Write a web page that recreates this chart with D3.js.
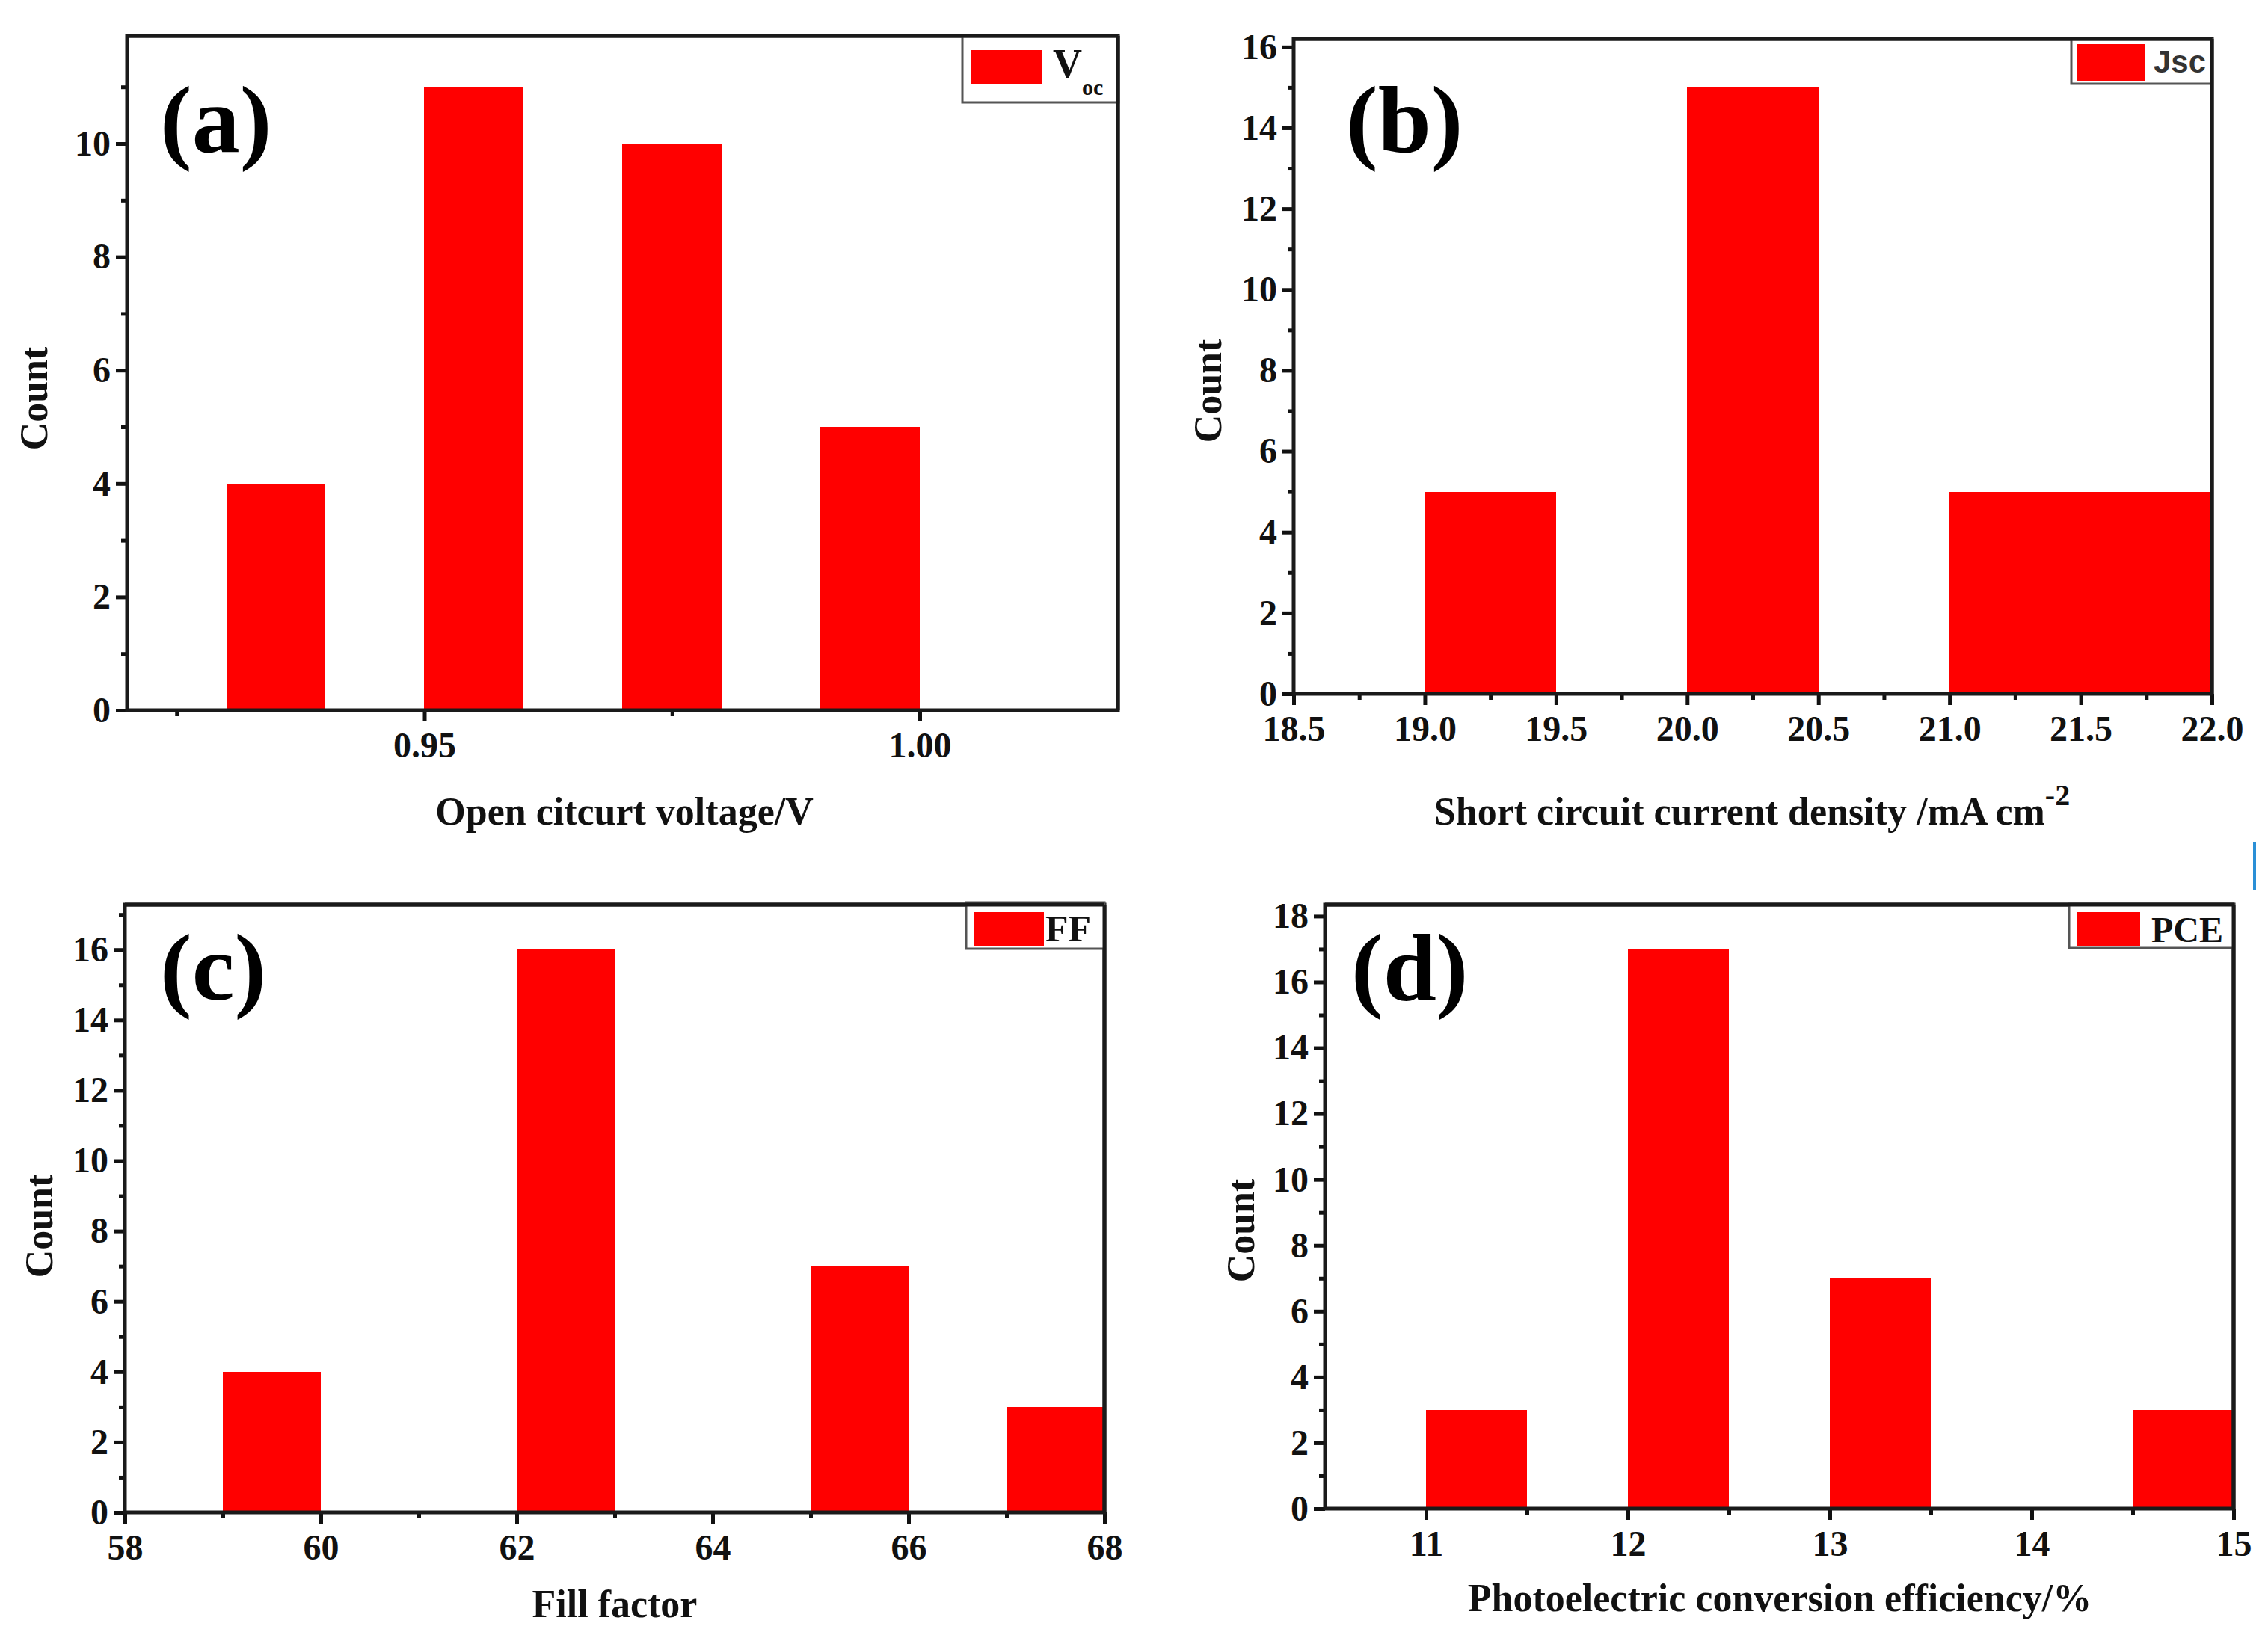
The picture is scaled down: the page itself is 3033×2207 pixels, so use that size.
<!DOCTYPE html>
<html>
<head>
<meta charset="utf-8">
<title>Device parameter histograms</title>
<script src="https://cdn.jsdelivr.net/npm/d3@7"></script>
<style>
    body { margin: 0; background: #fff; }
    text { font-family: "Liberation Serif", "Times New Roman", serif; font-weight: bold; }
</style>
</head>
<body>
<div id="chart-area"></div>
<script>
// Histograms of Voc, Jsc, FF and PCE (30 devices)

// (a) open circuit voltage
const vocBinStart = [0.93, 0.95, 0.97, 0.99];
const vocBinEnd = [0.94, 0.96, 0.98, 1.00];
const vocCount = [4, 11, 10, 5];
const vocTicks = [0.95, 1.00];
const vocMinorTicks = [0.925, 0.975];
const vocCountTicks = [0, 2, 4, 6, 8, 10];

// (b) short circuit current density
const jscBinStart = [19.0, 20.0, 21.0, 21.5];
const jscBinEnd = [19.5, 20.5, 21.5, 22.0];
const jscCount = [5, 15, 5, 5];
const jscTicks = [18.5, 19.0, 19.5, 20.0, 20.5, 21.0, 21.5, 22.0];
const jscMinorTicks = [18.75, 19.25, 19.75, 20.25, 20.75, 21.25, 21.75];
const jscCountTicks = [0, 2, 4, 6, 8, 10, 12, 14, 16];

// (c) fill factor
const ffBinStart = [59, 62, 65, 67];
const ffBinEnd = [60, 63, 66, 68];
const ffCount = [4, 16, 7, 3];
const ffTicks = [58, 60, 62, 64, 66, 68];
const ffMinorTicks = [59, 61, 63, 65, 67];
const ffCountTicks = [0, 2, 4, 6, 8, 10, 12, 14, 16];

// (d) photoelectric conversion efficiency
const pceBinStart = [11.0, 12.0, 13.0, 14.5];
const pceBinEnd = [11.5, 12.5, 13.5, 15.0];
const pceCount = [3, 17, 7, 3];
const pceTicks = [11, 12, 13, 14, 15];
const pceMinorTicks = [11.5, 12.5, 13.5, 14.5];
const pceCountTicks = [0, 2, 4, 6, 8, 10, 12, 14, 16, 18];


class Histogram {

    constructor(svg, data, config){
        this.svg = svg;
        this.data = data;
        this.config = config;

        this.initVis();
    }

    initVis(){
        let vis = this;
        let c = vis.config;

        vis.g = vis.svg.append("g");

        // scales
        vis.x = d3.scaleLinear()
            .domain(c.xDomain)
            .range([c.left, c.right]);

        vis.y = d3.scaleLinear()
            .domain([0, c.yMax])
            .range([c.bottom, c.top]);

        vis.wrangleData();
    }

    wrangleData(){
        let vis = this;

        // zip the bins with their counts
        vis.displayData = vis.data.start.map(function(d, i){
            return {x0: d, x1: vis.data.end[i], count: vis.data.count[i]};
        });

        vis.updateVis();
    }

    updateVis(){
        let vis = this;
        let c = vis.config;

        // bars (crisp edges so touching bins don't show a seam)
        vis.g.selectAll(".bar").data(vis.displayData)
            .enter()
            .append("rect")
            .attr("class", "bar")
            .attr("x", d => Math.round(vis.x(d.x0)))
            .attr("width", d => Math.round(vis.x(d.x1)) - Math.round(vis.x(d.x0)))
            .attr("y", d => vis.y(d.count))
            .attr("height", d => vis.y(0) - vis.y(d.count))
            .attr("fill", "#ff0000")
            .attr("shape-rendering", "crispEdges");

        // minor ticks
        vis.g.append("g")
            .attr("transform", "translate(0," + c.bottom + ")")
            .call(d3.axisBottom(vis.x).tickValues(c.xMinor).tickSize(8).tickFormat(""))
            .call(g => g.select(".domain").remove());

        vis.g.append("g")
            .attr("transform", "translate(" + c.left + ",0)")
            .call(d3.axisLeft(vis.y).tickValues(c.yMinor).tickSize(8).tickFormat(""))
            .call(g => g.select(".domain").remove());

        // major ticks + labels
        vis.xAxis = vis.g.append("g")
            .attr("transform", "translate(0," + c.bottom + ")")
            .call(d3.axisBottom(vis.x).tickValues(c.xMajor).tickSize(15).tickPadding(14).tickFormat(d3.format(c.xFmt)))
            .call(g => g.select(".domain").remove());

        vis.yAxis = vis.g.append("g")
            .attr("transform", "translate(" + c.left + ",0)")
            .call(d3.axisLeft(vis.y).tickValues(c.yMajor).tickSize(15).tickPadding(7).tickFormat(d3.format("d")))
            .call(g => g.select(".domain").remove());

        vis.g.selectAll(".tick line")
            .attr("stroke", "#111")
            .attr("stroke-width", 5);

        vis.g.selectAll(".tick text")
            .attr("font-family", "Liberation Serif, serif")
            .attr("font-weight", "bold")
            .attr("font-size", 48)
            .attr("fill", "#111");

        // frame
        vis.g.append("rect")
            .attr("x", c.left)
            .attr("y", c.top)
            .attr("width", c.right - c.left)
            .attr("height", c.bottom - c.top)
            .attr("fill", "none")
            .attr("stroke", "#1a1a1a")
            .attr("stroke-width", 5);

        // panel letter
        vis.g.append("text")
            .text(c.panel)
            .attr("x", c.panelX)
            .attr("y", c.panelY)
            .attr("font-size", 128)
            .attr("fill", "#000");

        // axis titles
        vis.g.append("text")
            .text("Count")
            .attr("transform", "translate(" + c.yTitleX + "," + c.yTitleY + ") rotate(-90)")
            .attr("text-anchor", "middle")
            .attr("dy", "0.35em")
            .attr("font-size", 52)
            .attr("fill", "#111");

        vis.xTitle = vis.g.append("text")
            .attr("x", c.xTitleX)
            .attr("y", c.xTitleY)
            .attr("text-anchor", "middle")
            .attr("font-size", 52)
            .attr("fill", "#111")
            .text(c.xTitle);

        if (c.xTitleSup){
            vis.xTitle.append("tspan")
                .attr("dy", -26)
                .attr("font-size", 40)
                .text(c.xTitleSup);
        }

        // legend
        let L = c.legend;
        vis.g.append("rect")
            .attr("x", L.x)
            .attr("y", L.y)
            .attr("width", L.w)
            .attr("height", L.h)
            .attr("fill", "#fff")
            .attr("stroke", "#555")
            .attr("stroke-width", 3);

        vis.g.append("rect")
            .attr("x", L.sx)
            .attr("y", L.sy)
            .attr("width", L.sw)
            .attr("height", L.sh)
            .attr("fill", "#ff0000");

        vis.legendText = vis.g.append("text")
            .attr("x", L.tx)
            .attr("y", L.ty)
            .attr("font-size", L.fs)
            .attr("fill", L.color || "#111")
            .style("font-family", L.font || "Liberation Serif, serif")
            .text(L.text);

        if (L.sub){
            vis.legendText.append("tspan")
                .attr("dy", 24)
                .attr("font-size", 30)
                .text(L.sub);
        }

        // right/top frame redraw over legend box
        vis.g.append("line")
            .attr("x1", c.left).attr("x2", c.right)
            .attr("y1", c.top).attr("y2", c.top)
            .attr("stroke", "#1a1a1a").attr("stroke-width", 5);
        vis.g.append("line")
            .attr("x1", c.right).attr("x2", c.right)
            .attr("y1", c.top).attr("y2", c.bottom)
            .attr("stroke", "#1a1a1a").attr("stroke-width", 5);
    }
}


let svg = d3.select("#chart-area").append("svg")
    .attr("width", 3033)
    .attr("height", 2207)
    .style("display", "block");

svg.append("rect")
    .attr("width", 3033)
    .attr("height", 2207)
    .attr("fill", "#fff");

new Histogram(svg, {start: vocBinStart, end: vocBinEnd, count: vocCount}, {
    left: 170, right: 1495, top: 48, bottom: 950,
    xDomain: [0.92, 1.02], yMax: 11.9,
    xMajor: vocTicks, xMinor: vocMinorTicks,
    yMajor: vocCountTicks, yMinor: [1, 3, 5, 7, 9, 11],
    xFmt: ".2f",
    panel: "(a)", panelX: 214, panelY: 203,
    yTitleX: 45, yTitleY: 533,
    xTitle: "Open citcurt voltage/V", xTitleX: 835, xTitleY: 1103,
    legend: {x: 1287, y: 49, w: 209, h: 88, sx: 1299, sy: 67, sw: 95, sh: 45,
             tx: 1408, ty: 103, fs: 54, text: "V", sub: "oc"}
});

new Histogram(svg, {start: jscBinStart, end: jscBinEnd, count: jscCount}, {
    left: 1730, right: 2958, top: 52, bottom: 928,
    xDomain: [18.5, 22.0], yMax: 16.2,
    xMajor: jscTicks, xMinor: jscMinorTicks,
    yMajor: jscCountTicks, yMinor: [1, 3, 5, 7, 9, 11, 13, 15],
    xFmt: ".1f",
    panel: "(b)", panelX: 1800, panelY: 203,
    yTitleX: 1615, yTitleY: 523,
    xTitle: "Short circuit current density /mA cm", xTitleSup: "-2", xTitleX: 2343, xTitleY: 1103,
    legend: {x: 2770, y: 53, w: 188, h: 59, sx: 2778, sy: 59, sw: 90, sh: 49,
             tx: 2880, ty: 97, fs: 42, text: "Jsc", color: "#333", font: "Liberation Sans, Arial, sans-serif"}
});

new Histogram(svg, {start: ffBinStart, end: ffBinEnd, count: ffCount}, {
    left: 167, right: 1477, top: 1210, bottom: 2023,
    xDomain: [58, 68], yMax: 17.28,
    xMajor: ffTicks, xMinor: ffMinorTicks,
    yMajor: ffCountTicks, yMinor: [1, 3, 5, 7, 9, 11, 13, 15, 17],
    xFmt: "d",
    panel: "(c)", panelX: 214, panelY: 1337,
    yTitleX: 52, yTitleY: 1640,
    xTitle: "Fill factor", xTitleX: 822, xTitleY: 2163,
    legend: {x: 1292, y: 1207, w: 185, h: 62, sx: 1302, sy: 1220, sw: 94, sh: 45,
             tx: 1398, ty: 1259, fs: 50, text: "FF"}
});

new Histogram(svg, {start: pceBinStart, end: pceBinEnd, count: pceCount}, {
    left: 1772, right: 2987, top: 1210, bottom: 2018,
    xDomain: [10.5, 15], yMax: 18.35,
    xMajor: pceTicks, xMinor: pceMinorTicks,
    yMajor: pceCountTicks, yMinor: [1, 3, 5, 7, 9, 11, 13, 15, 17],
    xFmt: "d",
    panel: "(d)", panelX: 1807, panelY: 1337,
    yTitleX: 1659, yTitleY: 1646,
    xTitle: "Photoelectric conversion efficiency/%", xTitleX: 2380, xTitleY: 2155,
    legend: {x: 2767, y: 1209, w: 220, h: 59, sx: 2777, sy: 1220, sw: 85, sh: 45,
             tx: 2877, ty: 1260, fs: 48, text: "PCE"}
});

// small blue mark at the right edge of the original figure
svg.append("line")
    .attr("x1", 3015).attr("x2", 3015)
    .attr("y1", 1126).attr("y2", 1190)
    .attr("stroke", "#2a8fd6")
    .attr("stroke-width", 4);
</script>
</body>
</html>
